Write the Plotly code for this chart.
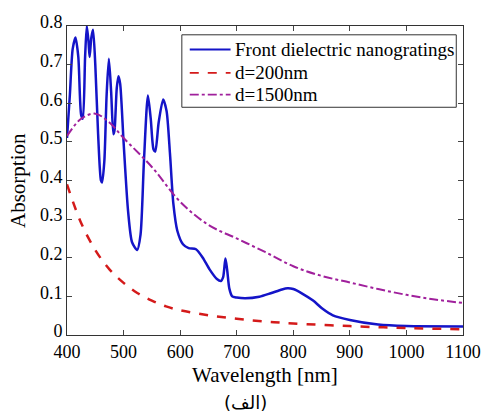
import plotly.graph_objects as go

# Front dielectric nanogratings (blue)
wl_front = [400, 405, 410, 415, 420, 425, 428, 432, 435, 438, 440, 443, 446, 450, 455, 460, 462, 466,
            470, 474, 478, 482, 484, 488, 491, 494, 500, 508, 515, 524, 530, 536, 543, 548, 553, 556,
            562, 570, 576, 582, 588, 595, 605, 615, 628, 640, 652, 665, 672, 676, 680, 683, 687, 692,
            700, 715, 740, 760, 780, 790, 800, 815, 835, 850, 870, 900, 950, 1000, 1100]
abs_front = [0.51, 0.62, 0.74, 0.77, 0.72, 0.57, 0.56, 0.72, 0.80, 0.76, 0.72, 0.77, 0.79, 0.70, 0.52, 0.40, 0.395, 0.45,
             0.62, 0.715, 0.63, 0.52, 0.53, 0.64, 0.67, 0.65, 0.50, 0.32, 0.24, 0.22, 0.26, 0.45, 0.62, 0.56, 0.48, 0.475,
             0.55, 0.61, 0.58, 0.47, 0.34, 0.27, 0.235, 0.225, 0.222, 0.20, 0.17, 0.145, 0.14, 0.15, 0.198, 0.17, 0.12, 0.10,
             0.097, 0.095, 0.099, 0.108, 0.118, 0.121, 0.119, 0.108, 0.089, 0.07, 0.051, 0.039, 0.027, 0.023, 0.022]

# d = 200 nm (red dashed)
wl_200 = [400, 425, 450, 475, 500, 525, 550, 575, 600, 650, 700, 750, 800, 900, 1000, 1100]
abs_200 = [0.39, 0.29, 0.22, 0.17, 0.135, 0.108, 0.089, 0.074, 0.064, 0.051, 0.042, 0.035, 0.030, 0.023, 0.018, 0.015]

# d = 1500 nm (purple dash-dot)
wl_1500 = [400, 425, 450, 475, 500, 550, 600, 650, 700, 750, 800, 850, 900, 950, 1000, 1050, 1100]
abs_1500 = [0.515, 0.56, 0.573, 0.55, 0.51, 0.435, 0.345, 0.285, 0.25, 0.215, 0.178, 0.153, 0.136, 0.119, 0.104,
            0.092, 0.083]

series_names = ["Front dielectric nanogratings", "d=200nm", "d=1500nm"]

x_ticks = [400, 500, 600, 700, 800, 900, 1000, 1100]
y_ticks = [0, 0.1, 0.2, 0.3, 0.4, 0.5, 0.6, 0.7, 0.8]
y_tick_text = ["0", "0.1", "0.2", "0.3", "0.4", "0.5", "0.6", "0.7", "0.8"]

serif = "Liberation Serif"
colors = ["#1414c8", "#d41a1a", "#a0209c"]
dashes = ["solid", "dash", "dashdot"]

fig = go.Figure()
fig.add_trace(go.Scatter(x=wl_front, y=abs_front, mode="lines", name=series_names[0],
                         line=dict(color=colors[0], width=2.5, shape="spline", smoothing=0.7)))
fig.add_trace(go.Scatter(x=wl_200, y=abs_200, mode="lines", name=series_names[1],
                         line=dict(color=colors[1], width=2.5, dash=dashes[1], shape="spline")))
fig.add_trace(go.Scatter(x=wl_1500, y=abs_1500, mode="lines", name=series_names[2],
                         line=dict(color=colors[2], width=2, dash=dashes[2], shape="spline")))

fig.update_layout(
    width=493, height=412,
    margin=dict(l=67, r=19, t=19, b=77),
    paper_bgcolor="white", plot_bgcolor="white",
    font=dict(family=serif, size=17, color="black"),
    showlegend=False,
)
fig.update_xaxes(range=[400, 1100], tickvals=x_ticks, ticks="inside", ticklen=5,
                 showline=True, linecolor="#333333", linewidth=1, mirror="ticks",
                 showgrid=False, zeroline=False,
                 tickfont=dict(family=serif, size=18, color="black"))
fig.update_yaxes(range=[0, 0.8], tickvals=y_ticks, ticktext=y_tick_text, ticks="inside", ticklen=5,
                 showline=True, linecolor="#333333", linewidth=1, mirror="ticks",
                 showgrid=False, zeroline=False, ticklabelshift=-4,
                 tickfont=dict(family=serif, size=18, color="black"))

# Legend (box, sample lines, labels) in paper coordinates
fig.add_shape(type="rect", xref="paper", yref="paper", x0=0.290, x1=0.983, y0=0.737, y1=0.9715,
              line=dict(color="#333333", width=1), fillcolor="white", layer="above")
row_y = [0.924, 0.848, 0.778]
for i in range(3):
    fig.add_shape(type="line", xref="paper", yref="paper", x0=0.310, x1=0.413, y0=row_y[i], y1=row_y[i],
                  line=dict(color=colors[i], width=1.8, dash=dashes[i]), layer="above")
    fig.add_annotation(text=series_names[i], xref="paper", yref="paper", x=0.420, y=row_y[i],
                       xanchor="left", yanchor="middle", showarrow=False,
                       font=dict(family=serif, size=19, color="black"))

fig.add_annotation(text="Wavelength [nm]", xref="paper", yref="paper", x=0.5, y=-0.13,
                   xanchor="center", yanchor="middle", showarrow=False,
                   font=dict(family=serif, size=21, color="black"))
fig.add_annotation(text="Absorption", xref="paper", yref="paper", x=-0.125, y=0.5,
                   xanchor="center", yanchor="middle", showarrow=False, textangle=-90,
                   font=dict(family=serif, size=21, color="black"))
fig.add_annotation(text="(الف)", xref="paper", yref="paper", x=0.452, y=-0.218,
                   xanchor="center", yanchor="middle", showarrow=False,
                   font=dict(family="DejaVu Sans", size=18, color="black"))

fig.write_html("out.html")
